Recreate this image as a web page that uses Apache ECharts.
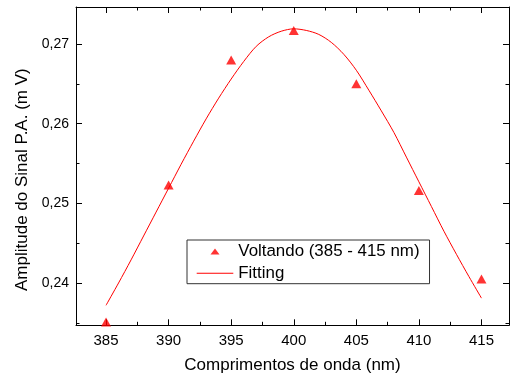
<!DOCTYPE html>
<html>
<head>
<meta charset="utf-8">
<script src="https://cdn.jsdelivr.net/npm/echarts@6/dist/echarts.min.js"></script>
<style>html,body{margin:0;padding:0;background:#fff;}#c{width:510px;height:378px;}</style>
</head>
<body>
<div id="c"></div>
<script>
// Data
var pointX = [385, 390, 395, 400, 405, 410, 415];
var pointY = [0.2351, 0.2523, 0.2680, 0.2717, 0.2650, 0.2516, 0.2405];
var fitX = [385,386,387,388,389,390,391,392,393,394,395,396,397,398,399,400,401,402,403,404,405,406,407,408,409,410,411,412,413,414,415];
var fitY = [0.2372,0.2400,0.2429,0.2459,0.2489,0.2519,0.2549,0.2578,0.2606,0.2632,0.2656,0.2678,0.2697,0.2709,0.2716,0.2719,0.2717,0.2712,0.2702,0.2687,0.2667,0.2642,0.2616,0.2589,0.2558,0.2527,0.2496,0.2465,0.2436,0.2408,0.2381];
var xMajor = [385, 390, 395, 400, 405, 410, 415];
var xMinor = [387.5, 392.5, 397.5, 402.5, 407.5, 412.5];
var yMajor = [0.24, 0.25, 0.26, 0.27];
var yMinor = [0.235, 0.245, 0.255, 0.265];
var seriesNames = ['Voltando (385 - 415 nm)', 'Fitting'];
var xTitle = 'Comprimentos de onda (nm)';
var yTitle = 'Amplitude do Sinal P.A. (m V)';

var FONT = 'Liberation Sans, Arial, sans-serif';
var XMIN = 382.6, XMAX = 417.2, YMIN = 0.23469, YMAX = 0.27464;

function mkX(pos, ticks, len, showLine, labels, name) {
  return {
    type: 'value', position: pos, min: XMIN, max: XMAX, gridIndex: 0,
    axisLine: {show: showLine, onZero: false, lineStyle: {color: '#000', width: 1}},
    axisTick: {show: true, inside: true, length: len, customValues: ticks, lineStyle: {color: '#000', width: 1}},
    axisLabel: labels ? {show: true, customValues: ticks, margin: 8, color: '#000', fontSize: 15, fontFamily: FONT, formatter: function (v) { return String(v); }} : {show: false},
    splitLine: {show: false},
    name: name || '', nameLocation: 'middle', nameGap: 32,
    nameTextStyle: {color: '#000', fontSize: 17, fontFamily: FONT}
  };
}
function mkY(pos, ticks, len, showLine, labels, name) {
  return {
    type: 'value', position: pos, min: YMIN, max: YMAX, gridIndex: 0,
    axisLine: {show: showLine, onZero: false, lineStyle: {color: '#000', width: 1}},
    axisTick: {show: true, inside: true, length: len, customValues: ticks, lineStyle: {color: '#000', width: 1}},
    axisLabel: labels ? {show: true, customValues: ticks, margin: 7, color: '#000', fontSize: 14, fontFamily: FONT, formatter: function (v) { return v.toFixed(2).replace('.', ','); }} : {show: false},
    splitLine: {show: false},
    name: name || '', nameLocation: 'middle', nameGap: 39,
    nameTextStyle: {color: '#000', fontSize: 17, fontFamily: FONT, padding: [0, 27, 0, 0]}
  };
}

var chart = echarts.init(document.getElementById('c'), null, {renderer: 'canvas'});
chart.setOption({
  animation: false,
  backgroundColor: '#fff',
  grid: {left: 76, top: 7, right: 1, bottom: 52.7, containLabel: false, outerBoundsMode: 'none'},
  xAxis: [
    mkX('bottom', xMajor, 6, true, true, xTitle),
    mkX('bottom', xMinor, 3.5, false, false),
    mkX('top', xMajor, 6, true, false),
    mkX('top', xMinor, 3.5, false, false)
  ],
  yAxis: [
    mkY('left', yMajor, 6, true, true, yTitle),
    mkY('left', yMinor, 3.5, false, false),
    mkY('right', yMajor, 6, true, false),
    mkY('right', yMinor, 3.5, false, false)
  ],
  legend: {
    orient: 'vertical', left: 187, top: 240,
    padding: [3, 10, 2, 9.7], itemGap: 4.7, itemWidth: 36.6, itemHeight: 14,
    borderColor: '#333', borderWidth: 1, backgroundColor: '#fff',
    textStyle: {color: '#000', fontSize: 16.9, fontFamily: FONT, lineHeight: 16},
    selectedMode: false,
    data: [
      {name: seriesNames[0], icon: 'path://M0,0M366,140M183,40L228,100L138,100Z', itemStyle: {color: '#ff0000'}},
      {name: seriesNames[1], icon: 'path://M0,0M366,140M0,65L366,65L366,75L0,75Z', itemStyle: {color: '#ff0000'}}
    ]
  },
  series: [
    {
      name: seriesNames[1], type: 'line', xAxisIndex: 0, yAxisIndex: 0,
      data: fitX.map(function (x, i) { return [x, fitY[i]]; }),
      symbol: 'none', showSymbol: false, smooth: 0.3,
      lineStyle: {color: '#ff0000', width: 1}, itemStyle: {color: '#ff0000'}, z: 2
    },
    {
      name: seriesNames[0], type: 'scatter', xAxisIndex: 0, yAxisIndex: 0,
      data: pointX.map(function (x, i) { return [x, pointY[i]]; }),
      symbol: 'triangle', symbolSize: [10, 9], clip: false,
      itemStyle: {color: '#ff0000'}, z: 3
    }
  ]
});
</script>
</body>
</html>
